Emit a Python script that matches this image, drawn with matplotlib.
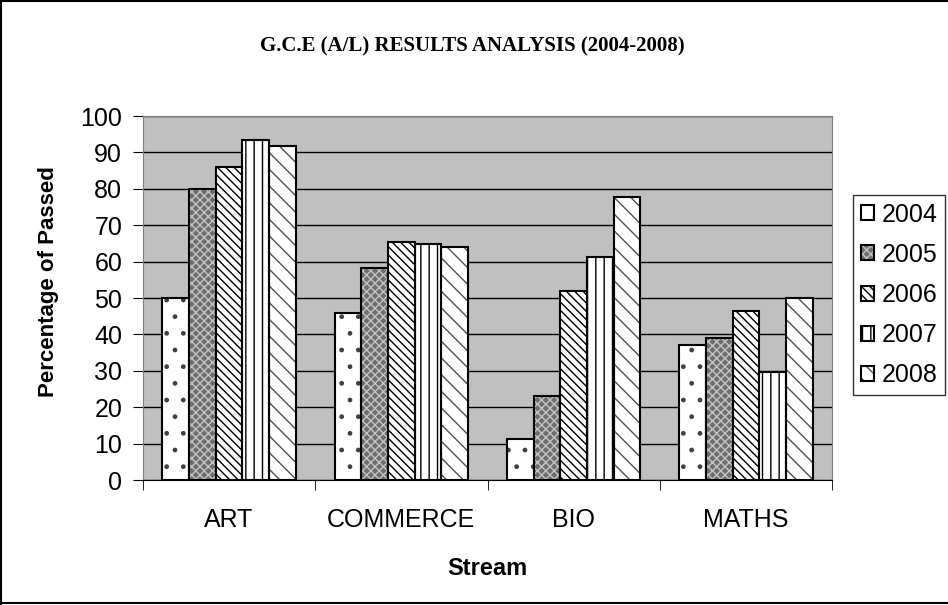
import matplotlib
matplotlib.use("Agg")
import matplotlib.pyplot as plt
from matplotlib.lines import Line2D
from matplotlib.legend_handler import HandlerTuple
import numpy as np

categories = ["ART", "COMMERCE", "BIO", "MATHS"]
years = ["2004", "2005", "2006", "2007", "2008"]
v2004 = [50, 45.8, 11.2, 37]
v2005 = [80, 58.2, 23.1, 39.1]
v2006 = [86, 65.5, 51.9, 46.3]
v2007 = [93.3, 64.8, 61.4, 29.8]
v2008 = [91.8, 63.9, 77.8, 50]
series = [v2004, v2005, v2006, v2007, v2008]

faces = ["white", "#6e6e6e", "white", "white", "white"]
hatches = [".", "xxxx", "\\" * 4, "||", "\\" * 2]
hcolors = ["#404040", "#c4c4c4", "black", "black", "#505050"]

plt.rcParams['font.family'] = ['Liberation Sans', 'DejaVu Sans']
plt.rcParams['hatch.linewidth'] = 1.0

fig = plt.figure(figsize=(9.48, 6.05), dpi=100)
ax = fig.add_axes([143/948, 1-480/605, (832-143)/948, (480-116)/605])
ax.set_facecolor("#c0c0c0")

x = np.arange(len(categories))
bw = 0.155
handles = []
for i, (vals, fc, h, hc) in enumerate(zip(series, faces, hatches, hcolors)):
    pos = x + (i - 2) * bw
    b1 = ax.bar(pos, vals, width=bw, facecolor=fc, edgecolor=hc,
                linewidth=0, hatch=h, zorder=3)
    b2 = ax.bar(pos, vals, width=bw, fill=False, edgecolor="black",
                linewidth=1.5, zorder=4)
    handles.append((b1, b2))

ax.set_xlim(-0.5, 3.5)
ax.set_ylim(0, 100)
ax.set_yticks(np.arange(0, 101, 10))
ax.yaxis.grid(True, color="black", linewidth=1, zorder=0)
ax.set_axisbelow(True)
ax.set_xticks(x)
ax.set_xticklabels(categories, fontsize=18)
ax.tick_params(axis='x', length=0, pad=20)
ax.set_xticks(np.arange(-0.5, 3.6, 1), minor=True)
ax.tick_params(axis='x', which='minor', length=7, color='black')
ax.tick_params(axis='y', labelsize=18, length=7, direction='out', pad=8)
for s in ["top", "right", "left"]:
    ax.spines[s].set_color("#808080")
ax.spines["bottom"].set_color("black")
ax.set_ylabel("Percentage of Passed", fontsize=16, fontweight="bold")
ax.yaxis.label.set_va("center")
ax.yaxis.set_label_coords((49-143)/689, (480-282)/364)
ax.set_xlabel("Stream", fontsize=17, fontweight="bold", labelpad=18)

fig.text(0.498, 1-46/605, "G.C.E (A/L) RESULTS ANALYSIS (2004-2008)",
         ha="center", va="center", fontsize=15, fontweight="bold",
         family=["Liberation Serif", "DejaVu Serif"])

leg = ax.legend(handles, years, handler_map={tuple: HandlerTuple(ndivide=1, pad=0)},
                loc="upper left", bbox_to_anchor=(853/948, 1-195/605),
                bbox_transform=fig.transFigure, fontsize=18, frameon=True,
                fancybox=False, edgecolor="black", handlelength=0.55,
                handleheight=0.55, handletextpad=0.3, labelspacing=0.65,
                borderpad=0.3, borderaxespad=0)
leg.get_frame().set_linewidth(1.0)

# figure border (left, top, bottom)
fig.add_artist(Line2D([0.0015, 0.0015], [0.002, 0.998], transform=fig.transFigure,
                      color="black", linewidth=1.5))
fig.add_artist(Line2D([0.0015, 1.0], [0.998, 0.998], transform=fig.transFigure,
                      color="black", linewidth=1.5))
fig.add_artist(Line2D([0.0015, 1.0], [0.003, 0.003], transform=fig.transFigure,
                      color="black", linewidth=1.5))
fig.savefig("out.png", dpi=100)
